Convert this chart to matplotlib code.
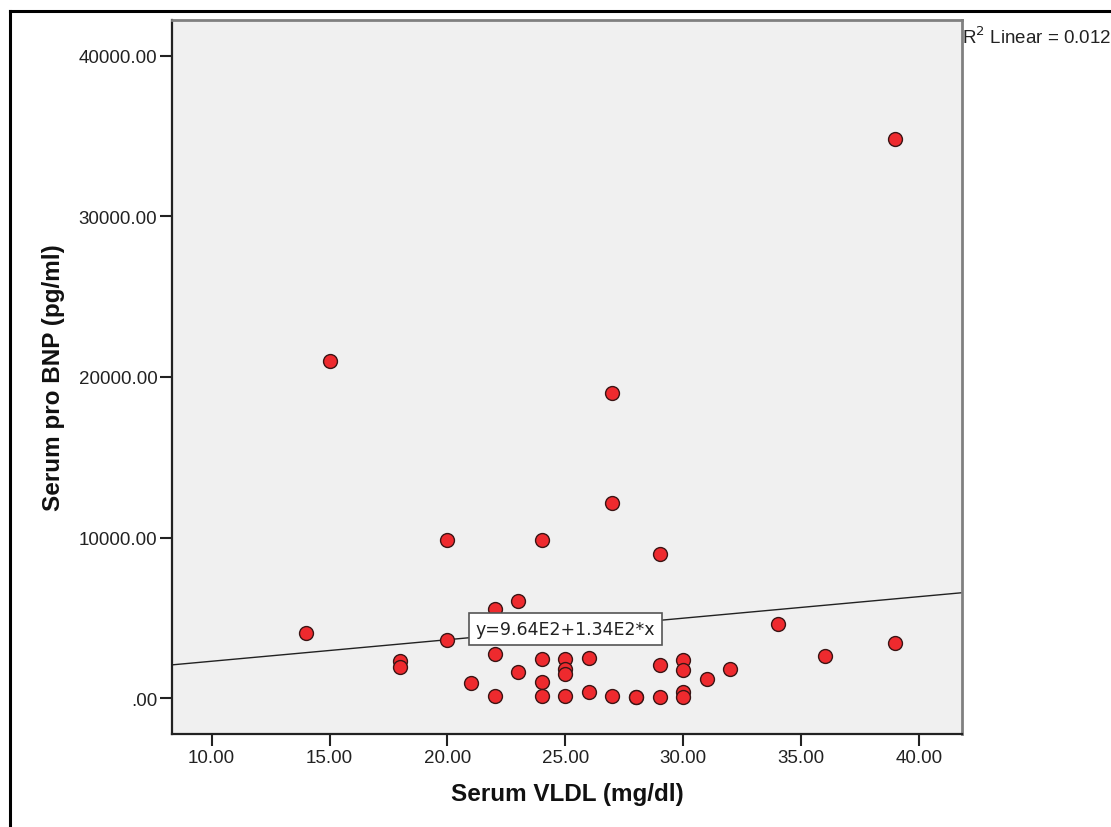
import numpy as np
import matplotlib
matplotlib.use("Agg")
import matplotlib.pyplot as plt
from matplotlib.lines import Line2D

plt.rcParams["font.family"] = ["Liberation Sans", "DejaVu Sans"]

# Serum VLDL (mg/dl) vs serum pro BNP (pg/ml)
vldl = [39, 39, 15, 27, 27, 27, 20, 20, 24, 24, 24, 24, 29, 29, 29, 14,
        23, 23, 22, 22, 22, 34, 36, 18, 18, 21, 25, 25, 25, 25, 26, 26,
        28, 28, 30, 30, 30, 30, 31, 32]
bnp = [34800, 3450, 21000, 19000, 12150, 160, 9850, 3620, 9850, 2450, 1000, 160,
       8950, 2050, 100, 4080, 6050, 1620, 5580, 2750, 160, 4600, 2650, 2300,
       1970, 950, 2450, 1820, 1540, 150, 2480, 420, 100, 50, 2370, 1760, 370,
       80, 1200, 1840]

# fit line as reported on the chart
intercept = 964.0
slope = 134.0
r2 = 0.012

x_ticks = [10, 15, 20, 25, 30, 35, 40]
y_ticks = [0, 10000, 20000, 30000, 40000]


def fmt(v):
    s = "%.2f" % v
    return s[1:] if s.startswith("0.") else s


fig = plt.figure(figsize=(11.11, 8.28), dpi=100)
ax = fig.add_axes([0.1548, 0.112, 0.711, 0.863])
ax.set_facecolor("#f0f0f0")

ax.set_xlim(8.317, 41.82)
ax.set_ylim(-2240, 42230)

# regression line across the whole plot area
xl = np.array(ax.get_xlim())
ax.plot(xl, intercept + slope * xl, color="#222222", lw=1.0, zorder=2)

ax.scatter(vldl, bnp, s=100, color="#ee2a2e", edgecolor="#3a1515",
           linewidth=1.0, zorder=3)

eq = "y=%.2fE2+%.2fE2*x" % (intercept / 100, slope / 100)
ax.text(25.0, 4310, eq, ha="center", va="center", fontsize=12.5,
        family="DejaVu Sans", color="#222222", zorder=4,
        bbox=dict(boxstyle="square,pad=0.4", fc="white", ec="#555555",
                  lw=1.2))

ax.set_xticks(x_ticks)
ax.set_xticklabels([fmt(v) for v in x_ticks])
ax.set_yticks(y_ticks)
ax.set_yticklabels([fmt(v) for v in y_ticks])
ax.tick_params(direction="out", length=8.5, width=1.5, color="#222222",
               labelsize=13.5, pad=2, labelcolor="#222222")

for side in ["left", "bottom"]:
    ax.spines[side].set_color("#222222")
    ax.spines[side].set_linewidth(1.6)
for side in ["top", "right"]:
    ax.spines[side].set_color("#808080")
    ax.spines[side].set_linewidth(2.0)

ax.set_xlabel("Serum VLDL (mg/dl)", fontsize=17.5, fontweight="bold",
              color="#111111")
ax.xaxis.set_label_coords(0.5, -0.067)
ax.set_ylabel("Serum pro BNP (pg/ml)", fontsize=17.5, fontweight="bold",
              color="#111111")
ax.yaxis.set_label_coords(-0.136, 0.5)

fig.text(0.8655, 0.9555, r"R$^2$ Linear = %.3f" % r2, fontsize=13.5,
         ha="left", va="center", color="#222222")

# outer frame (left and top edges visible)
fig.add_artist(Line2D([0.009, 0.009], [0, 0.9855], color="black", lw=2.2,
                      transform=fig.transFigure))
fig.add_artist(Line2D([0.009, 1.0], [0.9855, 0.9855], color="black", lw=2.2,
                      transform=fig.transFigure))

fig.savefig("out.png", dpi=100)
